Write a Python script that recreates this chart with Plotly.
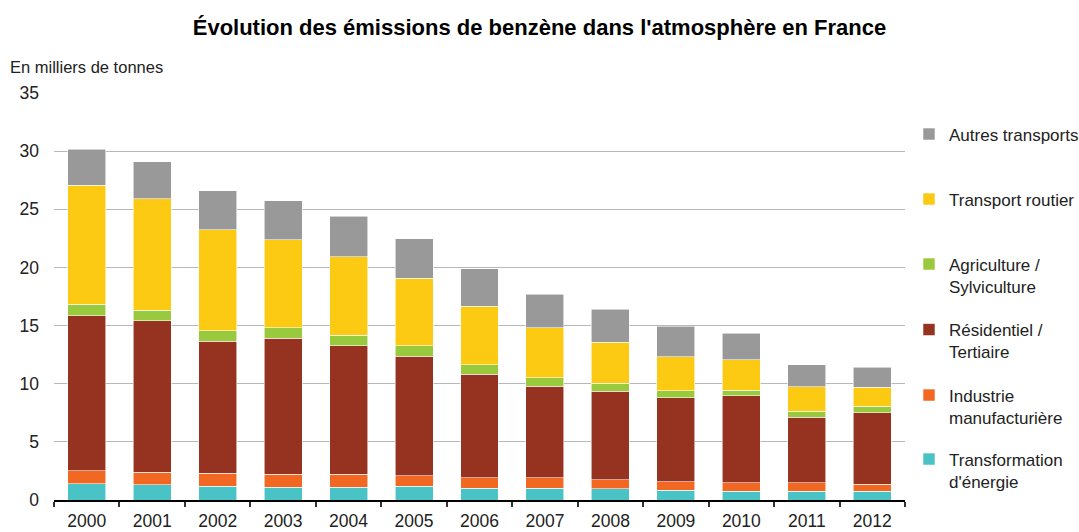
import plotly.graph_objects as go

# Emissions de benzène par secteur (milliers de tonnes)
years = ["2000", "2001", "2002", "2003", "2004", "2005", "2006",
         "2007", "2008", "2009", "2010", "2011", "2012"]
transformation = [1.4, 1.3, 1.2, 1.1, 1.1, 1.2, 1.0, 1.0, 0.95, 0.85, 0.75, 0.75, 0.75]
industrie = [1.1, 1.1, 1.1, 1.1, 1.1, 0.9, 0.9, 0.9, 0.8, 0.7, 0.75, 0.75, 0.6]
residentiel = [13.35, 13.0, 11.35, 11.7, 11.05, 10.25, 8.9, 7.9, 7.6, 7.25, 7.45, 5.6, 6.15]
agriculture = [1.0, 0.9, 0.9, 0.9, 0.9, 0.9, 0.85, 0.7, 0.7, 0.6, 0.5, 0.55, 0.55]
routier = [10.2, 9.6, 8.7, 7.6, 6.75, 5.8, 5.0, 4.3, 3.5, 2.9, 2.6, 2.1, 1.65]
autres = [3.1, 3.2, 3.35, 3.35, 3.5, 3.4, 3.25, 2.9, 2.85, 2.65, 2.3, 1.9, 1.7]

y_ticks = [0, 5, 10, 15, 20, 25, 30, 35]

# (label, values, colour) from bottom of the stack to the top
series = [
    ("Transformation<br>d'énergie", transformation, "#4AC3C6"),
    ("Industrie<br>manufacturière", industrie, "#F26722"),
    ("Résidentiel /<br>Tertiaire", residentiel, "#963220"),
    ("Agriculture /<br>Sylviculture", agriculture, "#99C93C"),
    ("Transport routier", routier, "#FCCA12"),
    ("Autres transports", autres, "#999999"),
]

# top edge (px from the top of the page) of each legend entry, bottom series first
legend_tops = [441.5, 377.5, 312, 246.5, 181.5, 116.5]

FONT = "Liberation Sans, Arial, sans-serif"
W, H = 1079, 532

fig = go.Figure()
legends = {}
for i, (name, vals, color) in enumerate(series):
    key = "legend" if i == 0 else f"legend{i + 1}"
    fig.add_trace(go.Bar(
        x=years, y=vals, name=name, showlegend=True,
        marker=dict(color=color, line=dict(color="rgba(255,255,255,0.7)", width=0.8)),
        legend=key,
    ))
    legends[key] = dict(
        xref="container", yref="container",
        x=909 / W, xanchor="left",
        y=1 - legend_tops[i] / H, yanchor="top",
        valign="top",
        font=dict(family=FONT, size=17, color="#222222"),
        bgcolor="rgba(0,0,0,0)",
    )

fig.update_layout(
    width=W, height=H, showlegend=True,
    barmode="stack", bargap=0.42,
    plot_bgcolor="white", paper_bgcolor="white",
    margin=dict(l=54, r=174, t=93, b=32, autoexpand=False),
    font=dict(family=FONT, color="#222222"),
    title=dict(
        text="<b>Évolution des émissions de benzène dans l'atmosphère en France</b>",
        font=dict(family=FONT, size=22, color="#000000"),
        x=0.5, xanchor="center", xref="container",
        y=1 - 27 / H, yanchor="middle", yref="container",
    ),
    annotations=[dict(
        text="En milliers de tonnes", xref="paper", yref="paper",
        x=-46 / 851, xanchor="left", y=1 + 26 / 407, yanchor="middle",
        showarrow=False, font=dict(family=FONT, size=16.5, color="#222222"),
    )],
    **legends,
)

fig.update_xaxes(
    type="category", automargin=False,
    showline=True, linecolor="#000000", linewidth=1.5,
    ticks="outside", tickson="boundaries", ticklen=5, tickwidth=1.5, tickcolor="#333333",
    ticklabelstandoff=4,
    tickfont=dict(family=FONT, size=17.5, color="#222222"),
    showgrid=False,
)
fig.update_yaxes(
    range=[0, 35], tickvals=y_ticks, automargin=False,
    showgrid=True, gridcolor="#B8B8B8", gridwidth=1.3,
    zeroline=False, showline=False,
    ticks="", ticklabelstandoff=14,
    tickfont=dict(family=FONT, size=17.5, color="#222222"),
)

fig.write_html("out.html")
